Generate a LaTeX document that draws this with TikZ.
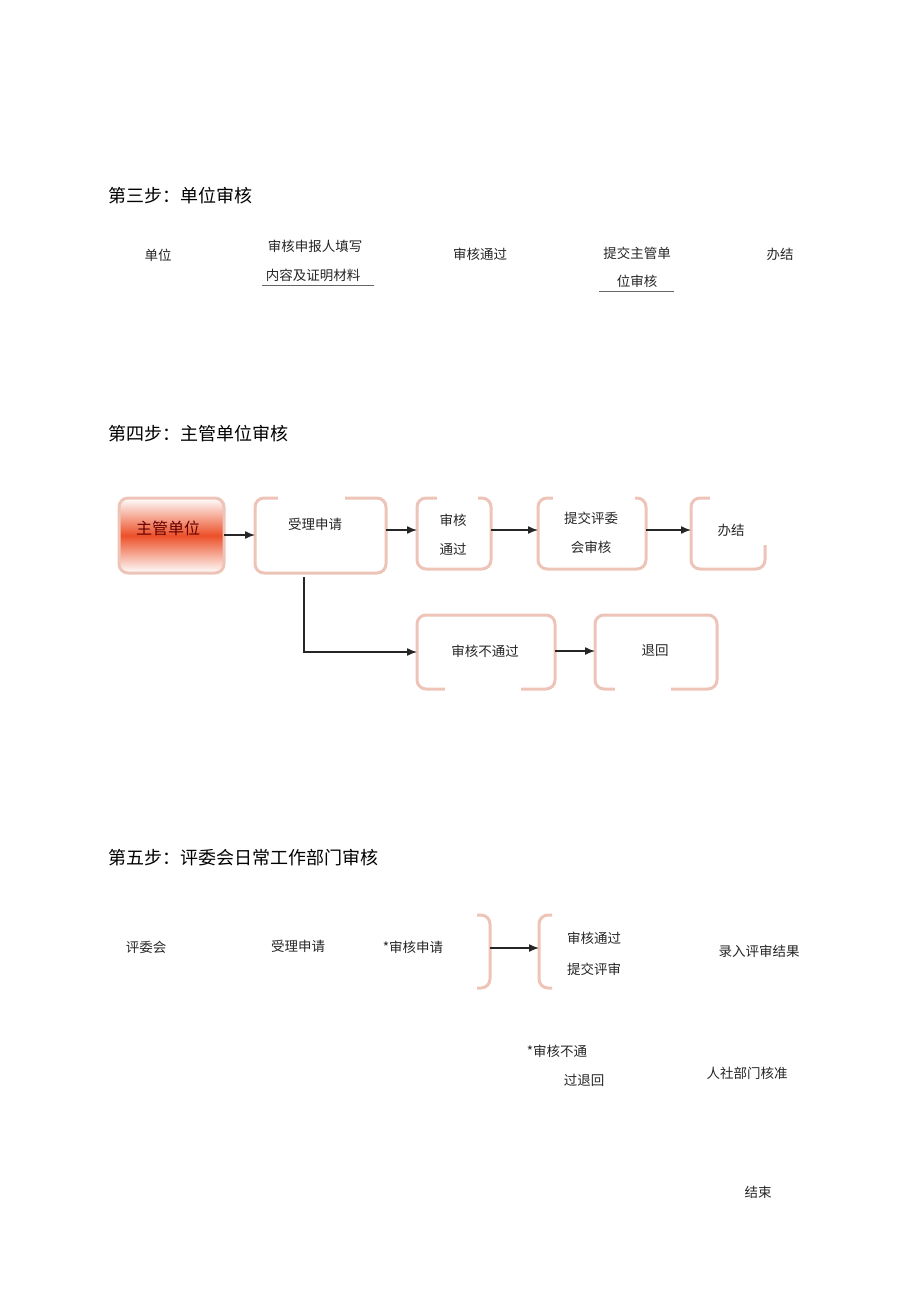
\documentclass[tikz,border=0pt]{standalone}
\usepackage{fontspec}
\setmainfont{Noto Sans CJK SC}
\usetikzlibrary{arrows.meta}
\definecolor{pinkb}{RGB}{238,196,184}
\definecolor{redo}{RGB}{236,80,40}
\tikzset{
  bx/.style={draw=pinkb,line width=3pt,rounded corners=9pt,fill=white,inner sep=0pt},
  gap/.style={fill=white,draw=none},
  tx/.style={font=\fontsize{13.5}{15}\selectfont,inner sep=0pt,text=black!85},
  ttl/.style={font=\fontsize{18}{20}\selectfont,anchor=west,inner sep=0pt},
  arr/.style={-{Latex[length=10pt,width=8pt]},line width=1.4pt,black!85},
}
\begin{document}
\begin{tikzpicture}[x=1pt,y=-1pt]
\useasboundingbox (0,0) rectangle (920,1303);
% titles
\node[ttl] (t3) at (108,196) {第三步：单位审核};
\node[ttl] (t4) at (108,434) {第四步：主管单位审核};
\node[ttl] (t5) at (108,858) {第五步：评委会日常工作部门审核};
% step 3
\node[tx] (s3a) at (158,255) {单位};
\node[tx] (s3b) at (315,246) {审核申报人填写};
\node[tx] (s3c) at (313,275) {内容及证明材料};
\node[tx] (s3d) at (480,254) {审核通过};
\node[tx] (s3e) at (637,253) {提交主管单};
\node[tx] (s3f) at (637,281) {位审核};
\node[tx] (s3g) at (780,254) {办结};
\draw[black!60,line width=0.6pt] (262,285) -- (374,285);
\draw[black!60,line width=0.6pt] (599,291) -- (674,291);
% step 4 boxes
\draw[draw=pinkb,line width=3pt,rounded corners=9pt,top color=white,bottom color=white,middle color=redo] (119,498) rectangle (224,573);
\node[font=\fontsize{16}{18}\selectfont,text=red!40!black] (zg) at (168,528) {主管单位};
\coordinate (zgE) at (224,535);
\draw[bx] (255,498) rectangle (386,573);
\fill[gap] (278,494) rectangle (345,502);
\node[tx] (sl) at (315,524) {受理申请};
\coordinate (slW) at (255,535);
\coordinate (slE) at (386,530);
\coordinate (slB) at (304,577);
\draw[bx] (417,498) rectangle (491,569);
\fill[gap] (437,494) rectangle (478,502);
\node[tx] (a1) at (453,520) {审核};
\node[tx] (a2) at (453,549) {通过};
\coordinate (aW) at (417,530);
\coordinate (aE) at (491,530);
\draw[bx] (538,498) rectangle (646,569);
\fill[gap] (553,494) rectangle (635,502);
\node[tx] (b1) at (591,518) {提交评委};
\node[tx] (b2) at (591,547) {会审核};
\coordinate (bW) at (538,530);
\coordinate (bE) at (646,530);
\draw[bx] (691,498) rectangle (765,569);
\fill[gap] (710,494) rectangle (770,502);
\fill[gap] (760,494) rectangle (770,545);
\node[tx] (c1) at (731,530) {办结};
\coordinate (cW) at (691,530);
\draw[bx] (417,615) rectangle (555,689);
\fill[gap] (445,684) rectangle (521,694);
\node[tx] (d1) at (485,651) {审核不通过};
\coordinate (dW) at (417,652);
\coordinate (dE) at (555,651);
\draw[bx] (595,615) rectangle (717,689);
\fill[gap] (615,684) rectangle (671,694);
\node[tx] (e1) at (655,651) {退回};
\coordinate (eW) at (595,651);
\draw[arr] (zgE) -- (slW);
\draw[arr] (slE) -- (aW);
\draw[arr] (aE) -- (bW);
\draw[arr] (bE) -- (cW);
\draw[arr] (slB) |- (dW);
\draw[arr] (dE) -- (eW);
% step 5
\node[tx] (f1) at (146,947) {评委会};
\node[tx] (f2) at (298,946) {受理申请};
\node[tx] (f3) at (413,947) {*审核申请};
\draw[draw=pinkb,line width=3pt,rounded corners=9pt] (477,915) -- (490,915) -- (490,988) -- (477,988);
\draw[draw=pinkb,line width=3pt,rounded corners=9pt] (552,915) -- (539,915) -- (539,988) -- (552,988);
\coordinate (gR) at (490,948);
\coordinate (gL) at (539,948);
\draw[arr] (gR) -- (gL);
\node[tx] (f4) at (594,938) {审核通过};
\node[tx] (f5) at (594,969) {提交评审};
\node[tx] (f6) at (759,951) {录入评审结果};
\node[tx] (f7) at (557,1051) {*审核不通};
\node[tx] (f8) at (584,1080) {过退回};
\node[tx] (f9) at (747,1073) {人社部门核准};
\node[tx] (f10) at (758,1192) {结束};
\end{tikzpicture}
\end{document}
